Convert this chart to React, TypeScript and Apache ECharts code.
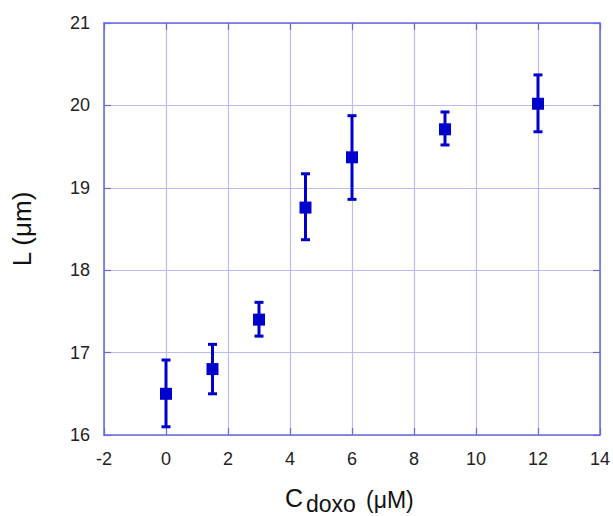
import React, { useEffect, useRef } from "react";
import * as echarts from "echarts";

const concentrations = [0, 1.5, 3, 4.5, 6, 9, 12];
const lengths = [16.5, 16.8, 17.4, 18.76, 19.37, 19.71, 20.02];
const errLow = [16.1, 16.5, 17.2, 18.37, 18.86, 19.52, 19.68];
const errHigh = [16.91, 17.1, 17.61, 19.17, 19.875, 19.92, 20.37];

const xTicks = { min: -2, max: 14, interval: 2 };
const yTicks = { min: 16, max: 21, interval: 1 };

const MARK = "#0000cc";
const FRAME = "#6a6ae0";
const GRIDLINE = "#bcbcf4";
const FONT = "Liberation Sans, Arial, sans-serif";

export default function App() {
  const ref = useRef<HTMLDivElement>(null);
  useEffect(() => {
    if (!ref.current) return;
    const chart = echarts.init(ref.current, null, { renderer: "svg" });
    const points = concentrations.map((c, i) => [c, lengths[i]]);
    const errs = concentrations.map((c, i) => [c, errLow[i], errHigh[i]]);
    const axisCommon = {
      axisLine: { show: true, onZero: false, lineStyle: { color: FRAME, width: 1.5 } },
      axisTick: { show: true, inside: true, length: 7, lineStyle: { color: FRAME, width: 1.2 } },
    };
    chart.setOption({
      animation: false,
      backgroundColor: "#ffffff",
      grid: { left: 104, right: 13, top: 23, bottom: 81, show: false },
      xAxis: [
        {
          type: "value",
          min: xTicks.min,
          max: xTicks.max,
          interval: xTicks.interval,
          position: "bottom",
          ...axisCommon,
          axisLabel: { color: "#222", fontSize: 18, fontFamily: FONT, margin: 15 },
          splitLine: { show: true, lineStyle: { color: GRIDLINE, width: 1.2 } },
        },
        {
          type: "value",
          min: xTicks.min,
          max: xTicks.max,
          interval: xTicks.interval,
          position: "top",
          ...axisCommon,
          axisLabel: { show: false },
          splitLine: { show: false },
        },
      ],
      yAxis: [
        {
          type: "value",
          min: yTicks.min,
          max: yTicks.max,
          interval: yTicks.interval,
          position: "left",
          ...axisCommon,
          axisLabel: { color: "#222", fontSize: 18, fontFamily: FONT, margin: 14 },
          splitLine: { show: true, lineStyle: { color: GRIDLINE, width: 1.2 } },
        },
        {
          type: "value",
          min: yTicks.min,
          max: yTicks.max,
          interval: yTicks.interval,
          position: "right",
          ...axisCommon,
          axisLabel: { show: false },
          splitLine: { show: false },
        },
      ],
      series: [
        {
          type: "custom",
          xAxisIndex: 0,
          yAxisIndex: 0,
          data: errs,
          z: 3,
          renderItem: (params: any, api: any) => {
            const x = api.value(0);
            const lo = api.coord([x, api.value(1)]);
            const hi = api.coord([x, api.value(2)]);
            const hw = 4.5;
            const st = { stroke: MARK, lineWidth: 3 };
            return {
              type: "group",
              children: [
                { type: "line", shape: { x1: lo[0], y1: lo[1], x2: hi[0], y2: hi[1] }, style: st },
                { type: "line", shape: { x1: lo[0] - hw, y1: lo[1], x2: lo[0] + hw, y2: lo[1] }, style: st },
                { type: "line", shape: { x1: hi[0] - hw, y1: hi[1], x2: hi[0] + hw, y2: hi[1] }, style: st },
              ],
            };
          },
        },
        {
          type: "scatter",
          xAxisIndex: 0,
          yAxisIndex: 0,
          data: points,
          symbol: "rect",
          symbolSize: 12,
          itemStyle: { color: MARK, opacity: 1 },
          z: 4,
        },
      ],
      graphic: [
        {
          type: "text",
          x: 22,
          y: 229,
          rotation: Math.PI / 2,
          style: {
            text: "L (\u03bcm)",
            fontSize: 26,
            fontFamily: FONT,
            fill: "#111",
            textAlign: "center",
            textVerticalAlign: "middle",
          },
        },
        {
          type: "text",
          x: 285,
          y: 498,
          style: {
            text: "C",
            fontSize: 25,
            fontFamily: FONT,
            fill: "#111",
            textAlign: "left",
            textVerticalAlign: "middle",
          },
        },
        {
          type: "text",
          x: 306,
          y: 504,
          style: {
            text: "doxo",
            fontSize: 23,
            fontFamily: FONT,
            fill: "#111",
            textAlign: "left",
            textVerticalAlign: "middle",
          },
        },
        {
          type: "text",
          x: 366,
          y: 500,
          style: {
            text: "(\u03bcM)",
            fontSize: 23,
            fontFamily: FONT,
            fill: "#111",
            textAlign: "left",
            textVerticalAlign: "middle",
          },
        },
      ],
    });
    return () => chart.dispose();
  }, []);
  return (
    <div
      ref={ref}
      style={{ position: "absolute", left: 0, top: 0, width: 613, height: 516, background: "#fff" }}
    />
  );
}
